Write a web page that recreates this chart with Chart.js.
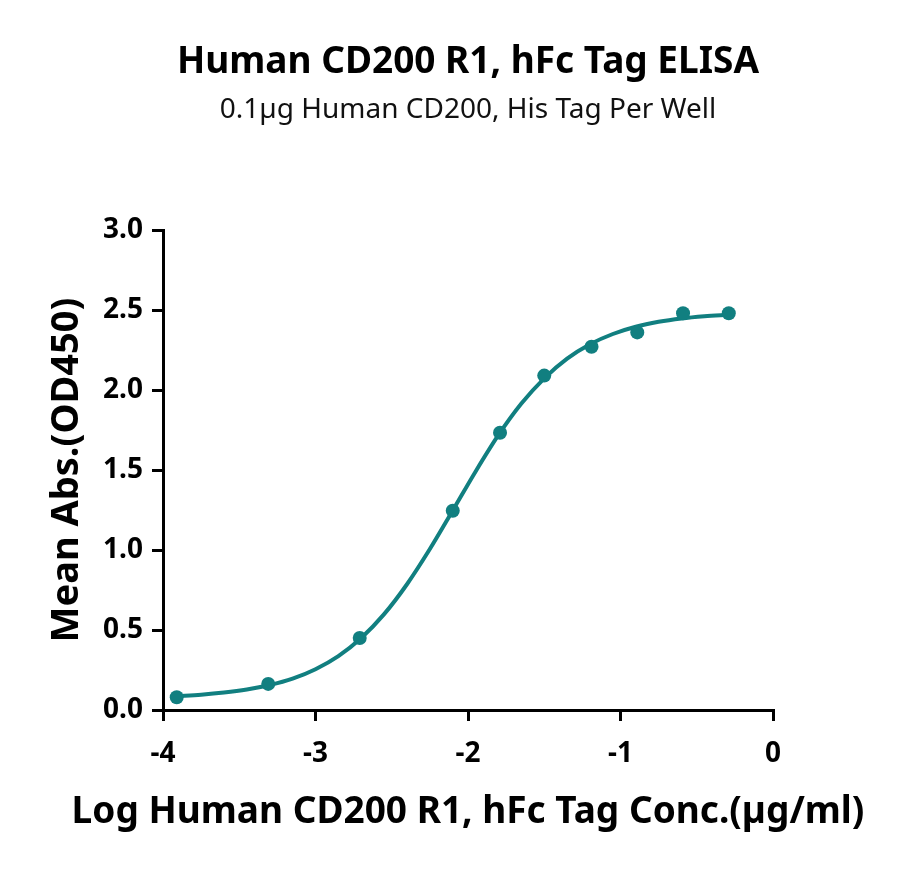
<!DOCTYPE html>
<html>
<head>
<meta charset="utf-8">
<script src="https://cdn.jsdelivr.net/npm/chart.js@4"></script>
<style>
  html, body { margin: 0; padding: 0; background: #fff; }
  #wrap { width: 900px; height: 869px; }
</style>
</head>
<body>
<div id="wrap"><canvas id="elisa" width="900" height="869"></canvas></div>
<script>
'use strict';

// measured points (log conc. in µg/ml vs OD450)
const logConc = [-3.91, -3.31, -2.71, -2.10, -1.79, -1.50, -1.19, -0.89, -0.59, -0.29];
const meanAbs = [0.08, 0.163, 0.45, 1.245, 1.733, 2.09, 2.27, 2.36, 2.48, 2.48];

// fitted curve
const fitX = [-3.91, -3.75, -3.6, -3.45, -3.3, -3.15, -3.0, -2.85, -2.7, -2.55, -2.4, -2.25, -2.1,
  -1.95, -1.8, -1.65, -1.5, -1.35, -1.2, -1.05, -0.9, -0.75, -0.6, -0.45, -0.29];
const fitY = [0.087, 0.096, 0.109, 0.128, 0.156, 0.196, 0.255, 0.337, 0.45, 0.599, 0.786, 1.006, 1.247,
  1.491, 1.719, 1.915, 2.073, 2.196, 2.286, 2.35, 2.395, 2.426, 2.447, 2.461, 2.471];

const TITLE = 'Human CD200 R1, hFc Tag ELISA',
  SUBTITLE = '0.1\u00b5g Human CD200, His Tag Per Well',
  X_TITLE = 'Log Human CD200 R1, hFc Tag Conc.(\u00b5g/ml)',
  Y_TITLE = 'Mean Abs.(OD450)',
  TEAL = '#117f80',
  FONT = 'Noto Sans';

function pairs(xs, ys) {
  return xs.map(function (x, i) { return { x: x, y: ys[i] }; });
}

// the x title is wider than the plot, chart.js would squeeze it, so draw it here
const xTitlePlugin = {
  id: 'xTitle',
  afterDraw: function (chart) {
    const ctx = chart.ctx, area = chart.chartArea;
    ctx.save();
    ctx.font = 'bold 37px "' + FONT + '"';
    ctx.fillStyle = '#000';
    ctx.textAlign = 'center';
    ctx.textBaseline = 'middle';
    ctx.fillText(X_TITLE, (area.left + area.right) / 2, 812);
    ctx.restore();
  }
};

const axisCommon = {
  border: { display: true, color: '#000', width: 3 },
  grid: { drawOnChartArea: false, drawTicks: true, tickLength: 11, color: '#000', lineWidth: 3 }
};

new Chart(document.getElementById('elisa'), {
  type: 'line',
  data: {
    datasets: [{
      data: pairs(logConc, meanAbs),
      showLine: false,
      pointRadius: 7,
      pointBackgroundColor: TEAL,
      pointBorderWidth: 0,
      order: 0
    }, {
      data: pairs(fitX, fitY),
      borderColor: TEAL,
      borderWidth: 4,
      pointRadius: 0,
      cubicInterpolationMode: 'monotone',
      fill: false,
      order: 1
    }]
  },
  options: {
    responsive: false,
    animation: false,
    layout: { padding: { left: 0, right: 127, top: 0, bottom: 0 } },
    plugins: {
      legend: { display: false },
      tooltip: { enabled: false },
      title: {
        display: true,
        fullSize: false,
        text: TITLE,
        color: '#000',
        font: { family: FONT, size: 37, weight: 'bold' },
        padding: { top: 40, bottom: 9 }
      },
      subtitle: {
        display: true,
        fullSize: false,
        text: SUBTITLE,
        color: '#111',
        font: { family: FONT, size: 28 },
        padding: { top: 0, bottom: 103 }
      }
    },
    scales: {
      x: Object.assign({
        type: 'linear',
        min: -4,
        max: 0,
        ticks: {
          stepSize: 1,
          color: '#000',
          padding: 16,
          font: { family: FONT, size: 28, weight: 'bold' }
        },
        afterFit: function (scale) { scale.height = 159; }
      }, axisCommon),
      y: Object.assign({
        min: 0,
        max: 3,
        ticks: {
          stepSize: 0.5,
          color: '#000',
          padding: 9,
          font: { family: FONT, size: 28, weight: 'bold' },
          callback: function (v) { return v.toFixed(1); }
        },
        title: {
          display: true,
          text: Y_TITLE,
          color: '#000',
          font: { family: FONT, size: 38, weight: 'bold' },
          padding: { top: 44, bottom: 0 }
        },
        afterFit: function (scale) { scale.width = 163; }
      }, axisCommon)
    }
  },
  plugins: [xTitlePlugin]
});
</script>
</body>
</html>
